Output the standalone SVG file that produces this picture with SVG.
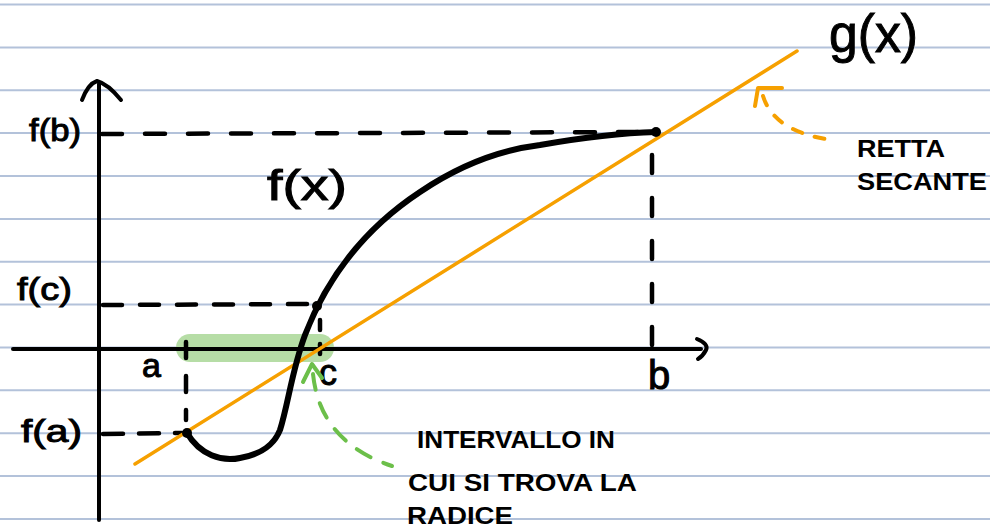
<svg xmlns="http://www.w3.org/2000/svg" width="990" height="531" viewBox="0 0 990 531">
<style>
.rule{stroke:#b3c2da;stroke-width:2}
.ax{stroke:#000;stroke-width:4;fill:none;stroke-linecap:round;stroke-linejoin:round}
.dash{stroke:#000;stroke-width:4.5;fill:none;stroke-linecap:round}
.lbl{font-family:"Liberation Sans",Arial,sans-serif;fill:#000;stroke:#000;stroke-width:1}
.note{font-family:"Liberation Sans",Arial,sans-serif;fill:#000;font-size:24px;font-weight:bold}
</style>
<rect width="990" height="531" fill="#fff"/>
<g id="rules">
<line class="rule" x1="0" y1="4.5" x2="990" y2="4.5"/>
<line class="rule" x1="0" y1="47.4" x2="990" y2="47.4"/>
<line class="rule" x1="0" y1="90.2" x2="990" y2="90.2"/>
<line class="rule" x1="0" y1="133.1" x2="990" y2="133.1"/>
<line class="rule" x1="0" y1="176" x2="990" y2="176"/>
<line class="rule" x1="0" y1="218.9" x2="990" y2="218.9"/>
<line class="rule" x1="0" y1="261.7" x2="990" y2="261.7"/>
<line class="rule" x1="0" y1="304.6" x2="990" y2="304.6"/>
<line class="rule" x1="0" y1="347.5" x2="990" y2="347.5"/>
<line class="rule" x1="0" y1="390.3" x2="990" y2="390.3"/>
<line class="rule" x1="0" y1="433.2" x2="990" y2="433.2"/>
<line class="rule" x1="0" y1="476.1" x2="990" y2="476.1"/>
<line class="rule" x1="0" y1="519" x2="990" y2="519"/>
</g>
<g id="interval">
<line x1="190" y1="348" x2="320" y2="348" stroke="#b6dda6" stroke-width="28" stroke-linecap="round"/>
</g>
<g id="axes">
<line class="ax" x1="13" y1="349" x2="701" y2="349"/>
<line class="ax" x1="99" y1="84" x2="99" y2="520"/>
<path class="ax" d="M82,100 Q88,84 97,81 Q108,84 121,100" stroke-width="5"/>
<path class="ax" d="M697,339 Q709,344 706,350 Q703,356 698,359"/>
</g>
<g id="guides">
<line class="dash" x1="102" y1="134" x2="650" y2="132" stroke-dasharray="20 23"/>
<line class="dash" x1="652" y1="155" x2="652" y2="345" stroke-dasharray="18 25"/>
<line class="dash" x1="103" y1="305" x2="313" y2="304" stroke-dasharray="19 18"/>
<line class="dash" x1="320" y1="320" x2="320" y2="355" stroke-dasharray="10 14"/>
<line class="dash" x1="103" y1="434" x2="182" y2="433" stroke-dasharray="20 16"/>
<line class="dash" x1="186" y1="342" x2="186" y2="420" stroke-dasharray="16 18"/>
</g>
<g id="secant">
<line x1="135" y1="464" x2="797" y2="51" stroke="#f6a000" stroke-width="3.5" stroke-linecap="round"/>
</g>
<g id="curve">
<path d="M187,433 C200,455 222,462 240,458 C262,454 274,445 280,430 C288,405 292,370 305,335 C330,270 370,225 420,192 C460,165 500,150 540,145 C580,138 620,133 656,132" fill="none" stroke="#000" stroke-width="6" stroke-linecap="round"/>
<circle cx="187" cy="433" r="5"/>
<circle cx="317" cy="306" r="5"/>
<circle cx="656" cy="132" r="5"/>
</g>
<g id="labels">
<text class="lbl" x="29" y="141" font-size="32" textLength="52" lengthAdjust="spacingAndGlyphs">f(b)</text>
<text class="lbl" x="17" y="300" font-size="32" textLength="55" lengthAdjust="spacingAndGlyphs">f(c)</text>
<text class="lbl" x="21" y="442" font-size="32" textLength="61" lengthAdjust="spacingAndGlyphs">f(a)</text>
<text class="lbl" x="142" y="377" font-size="34">a</text>
<text class="lbl" x="319" y="385" font-size="36">c</text>
<text class="lbl" x="648" y="389" font-size="40">b</text>
<text class="lbl" x="267" y="200" font-size="42" textLength="80" lengthAdjust="spacingAndGlyphs">f(x)</text>
<text class="lbl" x="829" y="52" font-size="54" textLength="89" lengthAdjust="spacingAndGlyphs">g(x)</text>
</g>
<g id="secant-note">
<path d="M763,96 Q774,132 832,140" fill="none" stroke="#f6a000" stroke-width="4" stroke-linecap="round" stroke-dasharray="10 13"/>
<path d="M782,88 L758,88 L755,106" fill="none" stroke="#f6a000" stroke-width="4" stroke-linecap="round" stroke-linejoin="round"/>
<text class="note" x="857" y="157" font-size="27" textLength="88" lengthAdjust="spacingAndGlyphs">RETTA</text>
<text class="note" x="857" y="190" font-size="27" textLength="130" lengthAdjust="spacingAndGlyphs">SECANTE</text>
</g>
<g id="root-note">
<path d="M313,374 Q320,442 392,466" fill="none" stroke="#6cbf4a" stroke-width="4" stroke-linecap="round" stroke-dasharray="16 14"/>
<path d="M303,382 L312,364 L322,378" fill="none" stroke="#6cbf4a" stroke-width="4" stroke-linecap="round" stroke-linejoin="round"/>
<text class="note" x="417" y="448" textLength="198" lengthAdjust="spacingAndGlyphs">INTERVALLO  IN</text>
<text class="note" x="408" y="491" textLength="229" lengthAdjust="spacingAndGlyphs">CUI SI TROVA LA</text>
<text class="note" x="407" y="524" font-size="24" textLength="106" lengthAdjust="spacingAndGlyphs">RADICE</text>
</g>
</svg>
